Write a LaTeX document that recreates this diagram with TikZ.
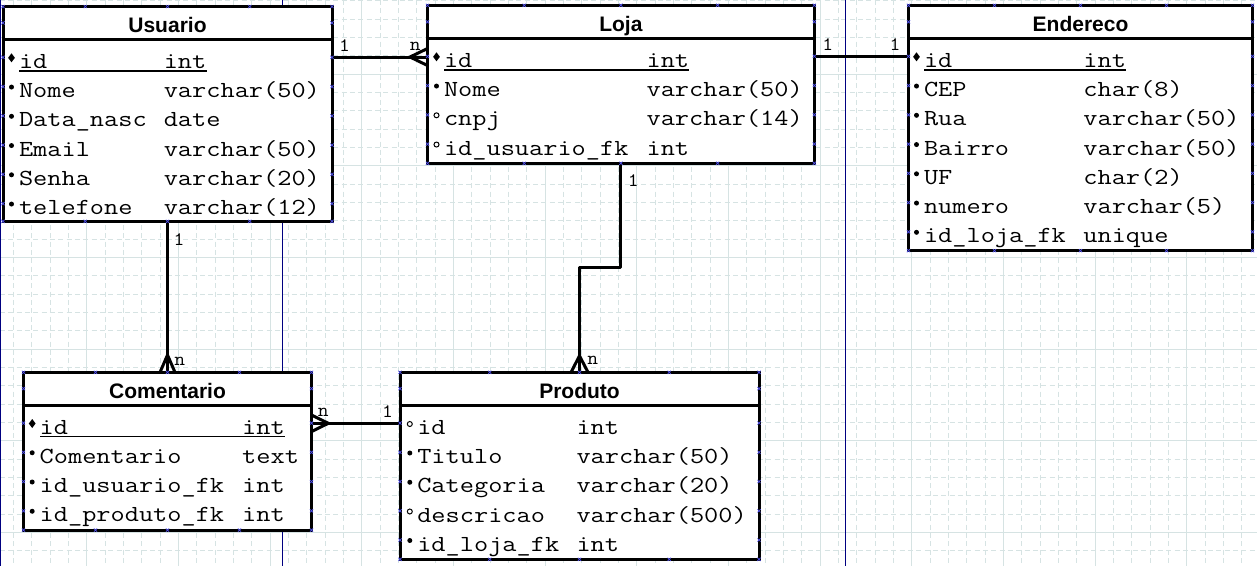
\documentclass[tikz,border=0pt]{standalone}
\usepackage{fontspec}
\newfontfamily\monof[FakeStretch=1.198]{Latin Modern Mono}
\newfontfamily\cardf[FakeStretch=1.1]{Latin Modern Mono}
\newfontfamily\titlef{Liberation Sans}
\usetikzlibrary{calc}
\definecolor{gridc}{RGB}{214,227,227}
\definecolor{pagec}{RGB}{0,0,128}
\definecolor{markc}{RGB}{80,80,235}
\tikzset{
  tbl/.style={draw=black, line width=3pt, fill=white, inner sep=0pt, outer sep=0pt, anchor=north west},
  sepline/.style={line width=3pt},
  conn/.style={line width=3pt, line join=round},
  fld/.style={font=\monof\fontsize{23}{23}\selectfont, inner sep=0pt, anchor=base west},
  ttl/.style={font=\titlef\bfseries\fontsize{21}{21}\selectfont, inner sep=0pt, anchor=base},
  card/.style={font=\cardf\fontsize{19}{19}\selectfont, inner sep=0pt},
  uline/.style={line width=1.2pt},
  xmk/.style={markc, line width=0.7pt},
  gminor/.style={gridc, line width=0.7pt, dash pattern=on 5pt off 3.33pt},
  gmajor/.style={gridc, line width=0.9pt},
}
\newcommand\tbox[7]{% name, L, T, R, B, S, title
  \node[tbl, minimum width={#4pt-#2pt}, minimum height={#5pt-#3pt}] (#1) at (#2,#3) {};
  \draw[sepline] (#2,#6) -- (#4,#6);
  \node[ttl] (#1-title) at ({(#2+#4)/2},{#3+26}) {#7};}
\newcommand\rowtxt[6]{%
  \node[fld] (#1n) at (#2,#4) {#5};
  \node[fld] (#1t) at (#3,#4) {#6};}
\newcommand\bpk[2]{\fill[shift={({#1-7.3},{#2-10.5})}] (0,-4.5) -- (3.4,0) -- (0,4.5) -- (-3.4,0) -- cycle;}
\newcommand\bnn[2]{\fill ({#1-7.3},{#2-10.5}) circle (2.5pt);}
\newcommand\bnl[2]{\draw[line width=1pt] ({#1-7.3},{#2-10.5}) circle (2.5pt);}
\newcommand\pkline[3]{\draw[uline] ({#1+0.5},{#3+2.7}) -- ({#2+43},{#3+2.7});}
\newcommand\xm[2]{\draw[xmk, shift={({#1},{#2})}] (-1.6,-1.6) -- (1.6,1.6) (-1.6,1.6) -- (1.6,-1.6);}
\newcommand\tmarks[6]{% L T R B S nrows
  \foreach \k in {0,...,4} {\xm{#1+(#3-#1)*\k/4}{#2}\xm{#1+(#3-#1)*\k/4}{#4}}
  \xm{#1}{(#2+#5)/2}\xm{#3}{(#2+#5)/2}
  \foreach \k in {1,...,#6} {\xm{#1}{#5+29+29.25*(\k-1)-11}\xm{#3}{#5+29+29.25*(\k-1)-11}}}
\newcommand\crow[3]{\draw[conn] ($(#1)+(#3)$) -- ($(#1)+(#2)$) -- ($(#1)-(#3)$);}
\begin{document}
\begin{tikzpicture}[x=1pt,y=-1pt]
\useasboundingbox (0,0) rectangle (1257,566);
\fill[white] (0,0) rectangle (1257,566);
% grid
\foreach \i in {0,...,69} \draw[gminor] ({-5+18.3333*\i},0) -- ({-5+18.3333*\i},566);
\foreach \j in {0,...,32} \draw[gminor] (0,{-17.667+18.3333*\j}) -- (1257,{-17.667+18.3333*\j});
\foreach \i in {0,...,14} \draw[gmajor] ({-5+91.6667*\i},0) -- ({-5+91.6667*\i},566);
\foreach \j in {0,...,7} \draw[gmajor] (0,{-17.667+91.6667*\j}) -- (1257,{-17.667+91.6667*\j});
% page lines
\draw[pagec, line width=1pt] (0.5,0) -- (0.5,566);
\draw[pagec, line width=1pt] (282.7,0) -- (282.7,566);
\draw[pagec, line width=1pt] (845.7,0) -- (845.7,566);

% Usuario
\tbox{usuario}{3}{6.5}{332}{221.3}{39.3}{Usuario}
\rowtxt{u1}{18.8}{163.6}{68.3}{id}{int}\bpk{18.8}{68.3}\pkline{18.8}{163.6}{68.3}
\rowtxt{u2}{18.8}{163.6}{97.55}{Nome}{varchar(50)}\bnn{18.8}{97.55}
\rowtxt{u3}{18.8}{163.6}{126.8}{Data\_nasc}{date}\bnn{18.8}{126.8}
\rowtxt{u4}{18.8}{163.6}{156.05}{Email}{varchar(50)}\bnn{18.8}{156.05}
\rowtxt{u5}{18.8}{163.6}{185.3}{Senha}{varchar(20)}\bnn{18.8}{185.3}
\rowtxt{u6}{18.8}{163.6}{214.55}{telefone}{varchar(12)}\bnn{18.8}{214.55}

% Loja
\tbox{loja}{427.5}{5.3}{814.3}{163.3}{38.3}{Loja}
\rowtxt{l1}{443.8}{646.4}{67.3}{id}{int}\bpk{443.8}{67.3}\pkline{443.8}{646.4}{67.3}
\rowtxt{l2}{443.8}{646.4}{96.55}{Nome}{varchar(50)}\bnn{443.8}{96.55}
\rowtxt{l3}{443.8}{646.4}{125.8}{cnpj}{varchar(14)}\bnl{443.8}{125.8}
\rowtxt{l4}{443.8}{646.4}{155.05}{id\_usuario\_fk}{int}\bnl{443.8}{155.05}

% Endereco
\tbox{endereco}{908.5}{5.3}{1252.5}{250.7}{38.3}{Endereco}
\rowtxt{e1}{923.8}{1083.2}{67.3}{id}{int}\bpk{923.8}{67.3}\pkline{923.8}{1083.2}{67.3}
\rowtxt{e2}{923.8}{1083.2}{96.55}{CEP}{char(8)}\bnn{923.8}{96.55}
\rowtxt{e3}{923.8}{1083.2}{125.8}{Rua}{varchar(50)}\bnn{923.8}{125.8}
\rowtxt{e4}{923.8}{1083.2}{155.05}{Bairro}{varchar(50)}\bnn{923.8}{155.05}
\rowtxt{e5}{923.8}{1083.2}{184.3}{UF}{char(2)}\bnn{923.8}{184.3}
\rowtxt{e6}{923.8}{1083.2}{213.55}{numero}{varchar(5)}\bnn{923.8}{213.55}
\rowtxt{e7}{923.8}{1083.2}{242.8}{id\_loja\_fk}{unique}\bnn{923.8}{242.8}

% Comentario
\tbox{comentario}{23.5}{372.3}{311.5}{530}{405}{Comentario}
\rowtxt{c1}{39.5}{242}{434}{id}{int}\bpk{39.5}{434}\pkline{39.5}{242}{434}
\rowtxt{c2}{39.5}{242}{463.25}{Comentario}{text}\bnn{39.5}{463.25}
\rowtxt{c3}{39.5}{242}{492.5}{id\_usuario\_fk}{int}\bnn{39.5}{492.5}
\rowtxt{c4}{39.5}{242}{521.75}{id\_produto\_fk}{int}\bnn{39.5}{521.75}

% Produto
\tbox{produto}{400}{372.3}{759}{559.3}{405}{Produto}
\rowtxt{p1}{417.1}{576.3}{434.5}{id}{int}\bnl{417.1}{434.5}
\rowtxt{p2}{417.1}{576.3}{463.5}{Titulo}{varchar(50)}\bnn{417.1}{463.5}
\rowtxt{p3}{417.1}{576.3}{492.75}{Categoria}{varchar(20)}\bnn{417.1}{492.75}
\rowtxt{p4}{417.1}{576.3}{522}{descricao}{varchar(500)}\bnl{417.1}{522}
\rowtxt{p5}{417.1}{576.3}{551}{id\_loja\_fk}{int}\bnn{417.1}{551}

% connectors
\coordinate (c-ul) at (380,57);
\coordinate (c-le) at (860,56.7);
\coordinate (c-cp) at (350,423.3);
\coordinate (c-lp) at (600,267.3);
\coordinate (lojaIn) at (loja.west |- c-ul);
\coordinate (comIn) at (comentario.east |- c-cp);
\draw[conn] (usuario.east |- c-ul) -- (loja.west |- c-ul);
\crow{lojaIn}{-17.5,0}{0,8.5}
\draw[conn] (loja.east |- c-le) -- (endereco.west |- c-le);
\draw[conn] (usuario.south) -- (comentario.north);
\crow{comentario.north}{0,-17.3}{7.5,0}
\draw[conn] (comentario.east |- c-cp) -- (produto.west |- c-cp);
\crow{comIn}{16.8,0}{0,8.3}
\draw[conn] (loja.south) |- (c-lp) -| (produto.north);
\crow{produto.north}{0,-16.5}{8.5,0}

% cardinalities
\node[card] (k1) at (344.5,45.5) {1};
\node[card] (k2) at (415.3,46.7) {n};
\node[card] (k3) at (827.7,44.7) {1};
\node[card] (k4) at (895,44.7) {1};
\node[card] (k5) at (179,240) {1};
\node[card] (k6) at (179.7,361.7) {n};
\node[card] (k7) at (323.3,412.5) {n};
\node[card] (k8) at (387.5,411.5) {1};
\node[card] (k9) at (633.3,180.8) {1};
\node[card] (k10) at (592.7,360.8) {n};

% connection marks
\tmarks{3}{6.5}{332}{221.3}{39.3}{6}
\tmarks{427.5}{5.3}{814.3}{163.3}{38.3}{4}
\tmarks{908.5}{5.3}{1252.5}{250.7}{38.3}{7}
\tmarks{23.5}{372.3}{311.5}{530}{405}{4}
\tmarks{400}{372.3}{759}{559.3}{405}{5}
\end{tikzpicture}
\end{document}
